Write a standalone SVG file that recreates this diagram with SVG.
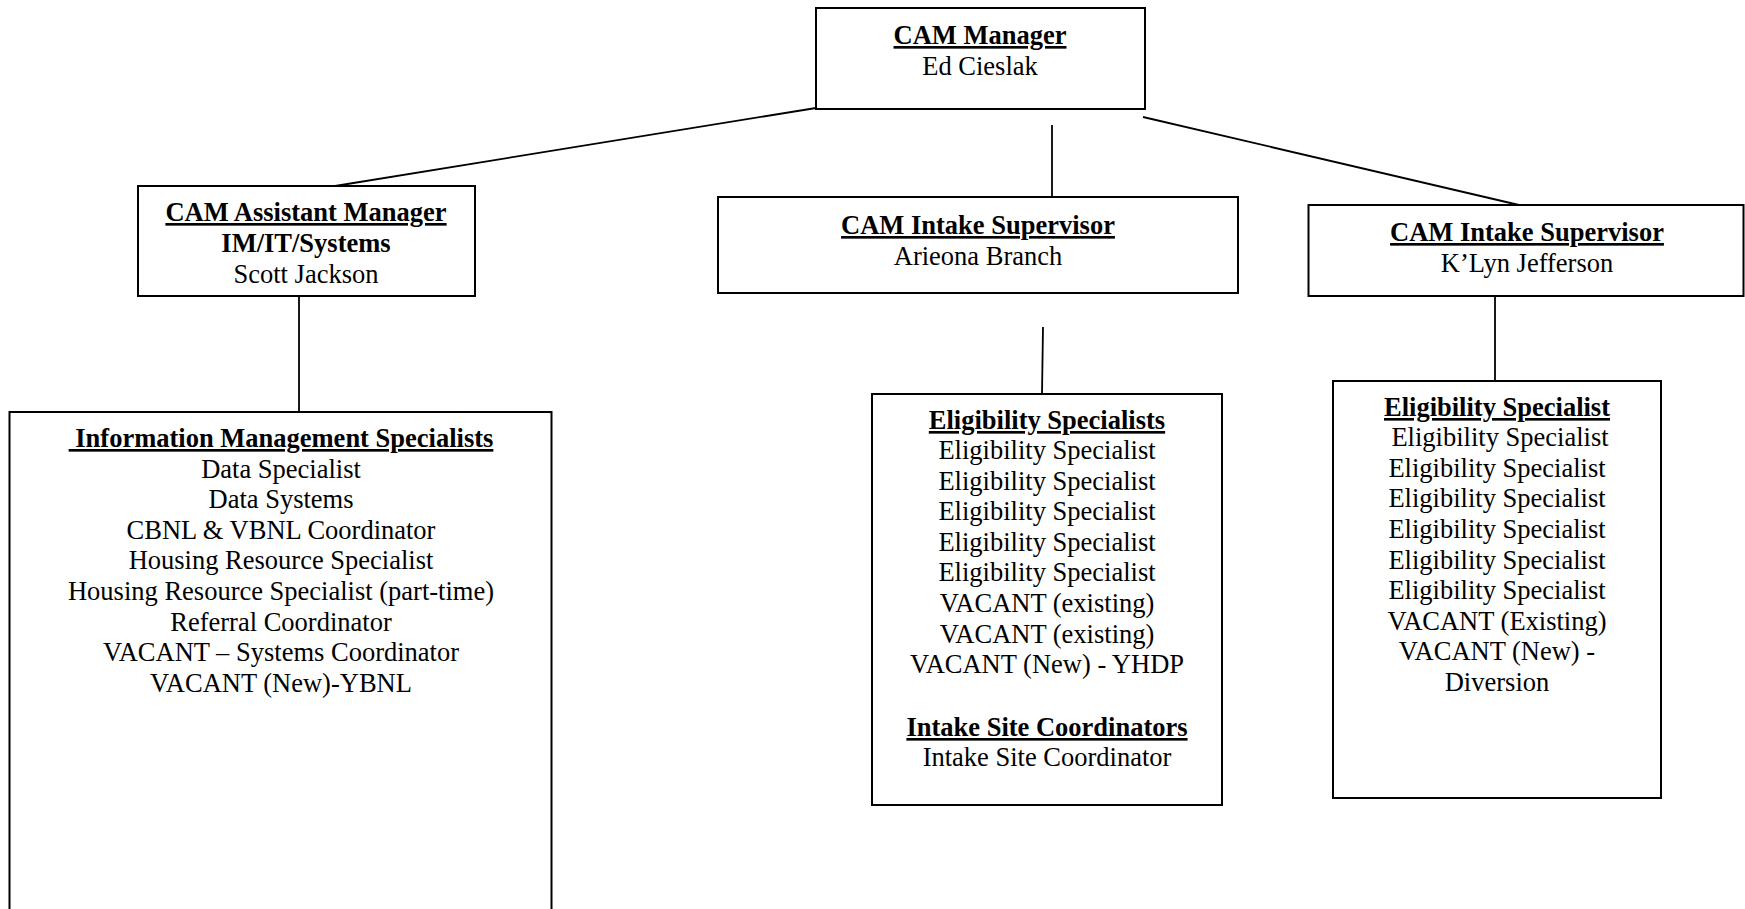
<svg xmlns="http://www.w3.org/2000/svg" width="1745" height="909" viewBox="0 0 1745 909">
<style>
.box{fill:#fff;stroke:#000;stroke-width:2}
.con line{stroke:#000;stroke-width:1.8}
text{font-family:"Liberation Serif","Times New Roman",serif;font-size:26.5px;fill:#000;text-anchor:middle}
.h{font-weight:bold;text-decoration:underline}
.b{font-weight:bold}
</style>
<rect width="1745" height="909" fill="#fff"/>
<g id="connectors" class="con">
<line x1="816" y1="108" x2="335" y2="186"/>
<line x1="1052" y1="125" x2="1052" y2="197"/>
<line x1="1143" y1="117" x2="1519" y2="205"/>
<line x1="299" y1="296" x2="299" y2="412"/>
<line x1="1043" y1="327" x2="1042" y2="394"/>
<line x1="1495" y1="296" x2="1495" y2="382"/>
</g>
<g id="cam-manager">
<rect class="box" x="816" y="8" width="329" height="101"/>
<text x="980" y="44" class="h">CAM Manager</text>
<text x="980" y="75">Ed Cieslak</text>
</g>
<g id="assistant-manager">
<rect class="box" x="138" y="186" width="337" height="110"/>
<text x="306" y="221" class="h">CAM Assistant Manager</text>
<text x="306" y="252" class="b">IM/IT/Systems</text>
<text x="306" y="283">Scott Jackson</text>
</g>
<g id="intake-supervisor-branch">
<rect class="box" x="718" y="197" width="520" height="96"/>
<text x="978" y="234" class="h">CAM Intake Supervisor</text>
<text x="978" y="265">Arieona Branch</text>
</g>
<g id="intake-supervisor-jefferson">
<rect class="box" x="1308.5" y="205" width="435" height="91"/>
<text x="1527" y="241" class="h">CAM Intake Supervisor</text>
<text x="1527" y="272">K’Lyn Jefferson</text>
</g>
<g id="info-mgmt-specialists">
<rect class="box" x="9.5" y="412" width="542" height="510"/>
<text x="281" y="447" class="h" style="white-space:pre"> Information Management Specialists</text>
<text x="281" y="478">Data Specialist</text>
<text x="281" y="508">Data Systems</text>
<text x="281" y="539">CBNL &amp; VBNL Coordinator</text>
<text x="281" y="569">Housing Resource Specialist</text>
<text x="281" y="600">Housing Resource Specialist (part-time)</text>
<text x="281" y="631">Referral Coordinator</text>
<text x="281" y="661">VACANT – Systems Coordinator</text>
<text x="281" y="692">VACANT (New)-YBNL</text>
</g>
<g id="eligibility-specialists-branch">
<rect class="box" x="872" y="394" width="350" height="411"/>
<text x="1047" y="429" class="h">Eligibility Specialists</text>
<text x="1047" y="459">Eligibility Specialist</text>
<text x="1047" y="490">Eligibility Specialist</text>
<text x="1047" y="520">Eligibility Specialist</text>
<text x="1047" y="551">Eligibility Specialist</text>
<text x="1047" y="581">Eligibility Specialist</text>
<text x="1047" y="612">VACANT (existing)</text>
<text x="1047" y="643">VACANT (existing)</text>
<text x="1047" y="673">VACANT (New) - YHDP</text>
<text x="1047" y="736" class="h">Intake Site Coordinators</text>
<text x="1047" y="766">Intake Site Coordinator</text>
</g>
<g id="eligibility-specialists-jefferson">
<rect class="box" x="1333" y="381" width="328" height="417"/>
<text x="1497" y="416" class="h">Eligibility Specialist</text>
<text x="1500" y="446">Eligibility Specialist</text>
<text x="1497" y="477">Eligibility Specialist</text>
<text x="1497" y="507">Eligibility Specialist</text>
<text x="1497" y="538">Eligibility Specialist</text>
<text x="1497" y="569">Eligibility Specialist</text>
<text x="1497" y="599">Eligibility Specialist</text>
<text x="1497" y="630">VACANT (Existing)</text>
<text x="1497" y="660">VACANT (New) -</text>
<text x="1497" y="691">Diversion</text>
</g>
</svg>
